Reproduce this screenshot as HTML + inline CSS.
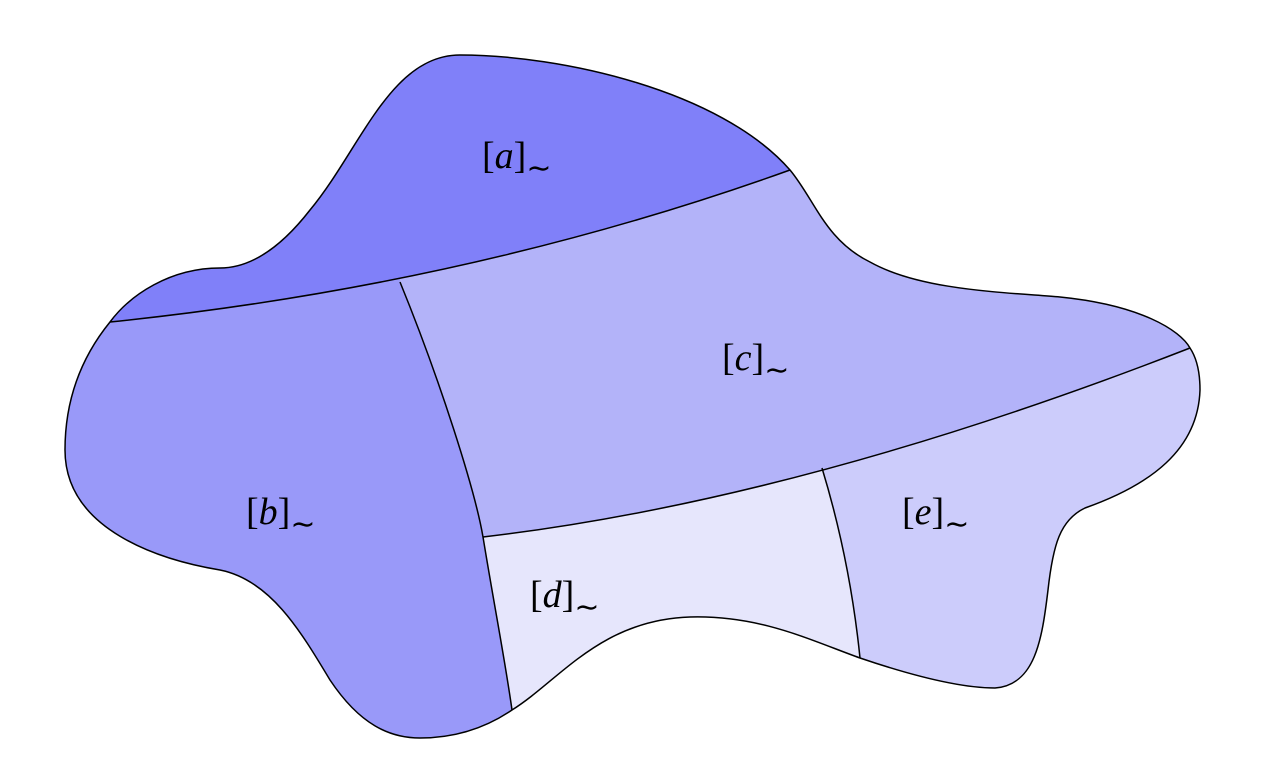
<!DOCTYPE html>
<html><head><meta charset="utf-8"><style>
html,body{margin:0;padding:0;background:#fff;}
svg{display:block;}
text{font-family:"Liberation Serif",serif;font-size:38px;fill:#000;}
</style></head><body>
<svg width="1268" height="780" viewBox="0 0 1268 780">
<defs>
<clipPath id="blob"><path id="blobpath" d="M460,55 C560,55 720,90 790,170 C815,200 825,240 870,262 C920,290 1000,292 1060,297 C1140,305 1180,330 1190,348 C1198,360 1200,375 1200,390 C1198,450 1150,485 1085,508 C1060,520 1053,545 1048,590 C1042,640 1035,685 995,688 C960,688 910,675 860,658 C810,640 760,615 690,617 C600,620 560,680 512,710 C490,725 460,738 420,738 C390,738 360,725 330,680 C300,630 270,580 220,570 C160,560 65,530 65,450 C65,410 75,365 110,322 C130,295 170,268 220,268 C245,268 275,255 310,210 C360,150 390,55 460,55 Z"/></clipPath>
<clipPath id="below3"><path d="M483,537 Q800,500 1190,348 L1268,330 L1268,780 L483,780 Z"/></clipPath>
</defs>
<g clip-path="url(#blob)">
<rect x="0" y="0" width="1268" height="780" fill="#b3b3f9"/>
<g clip-path="url(#below3)">
<rect x="0" y="0" width="1268" height="780" fill="#e6e6fc"/>
<path d="M822,468 Q850,560 860,658 L860,780 L1268,780 L1268,300 L822,300 Z" fill="#ccccfb"/>
</g>
<path d="M400,282 C440,380 475,490 483,537 C495,610 505,660 512,710 L512,780 L0,780 L0,200 L400,200 Z" fill="#9999f9"/>
<path d="M110,322 Q470,285 790,170 L820,0 L0,0 L0,322 Z" fill="#8080f9"/>
</g>
<g fill="none" stroke="#000" stroke-width="1.5">
<path d="M110,322 Q470,285 790,170"/>
<path d="M400,282 C440,380 475,490 483,537 C495,610 505,660 512,710"/>
<path d="M483,537 Q800,500 1190,348"/>
<path d="M822,468 Q850,560 860,658"/>
<use href="#blobpath"/>
</g>
<text x="482" y="168">[<tspan font-style="italic">a</tspan>]<tspan font-size="30" dy="10">∼</tspan></text>
<text x="722" y="370">[<tspan font-style="italic">c</tspan>]<tspan font-size="30" dy="10">∼</tspan></text>
<text x="246" y="524">[<tspan font-style="italic">b</tspan>]<tspan font-size="30" dy="10">∼</tspan></text>
<text x="530" y="607">[<tspan font-style="italic">d</tspan>]<tspan font-size="30" dy="10">∼</tspan></text>
<text x="902" y="524">[<tspan font-style="italic">e</tspan>]<tspan font-size="30" dy="10">∼</tspan></text>
</svg>
</body></html>
